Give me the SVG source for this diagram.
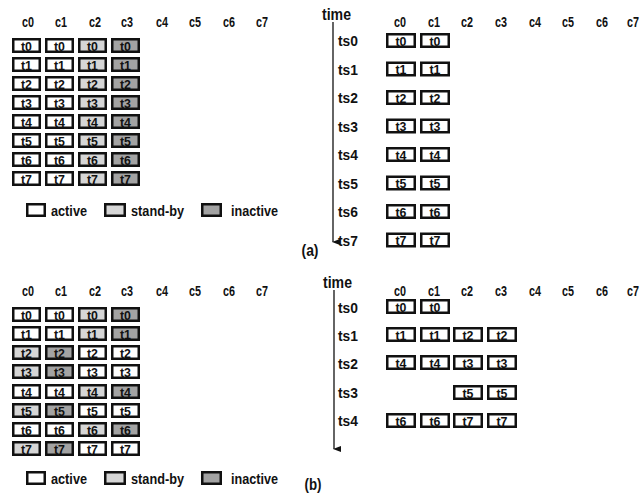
<svg xmlns="http://www.w3.org/2000/svg" width="642" height="495" viewBox="0 0 642 495">
<style>
text{font-family:"Liberation Sans",Arial,sans-serif;font-weight:bold;fill:#111}
.hd{font-size:14px;text-anchor:middle}
.bt{font-size:13.5px;text-anchor:middle}
.lg{font-size:15.5px}
.ts{font-size:15.5px}
.tm{font-size:16.5px}
.cap{font-size:16px;text-anchor:middle}
rect.b{stroke:#111;stroke-width:2.5}
.a{fill:#fff}.s{fill:#d6d6d6}.i{fill:#a3a3a3}
.ax{stroke:#111;stroke-width:1.3;fill:none}
</style>
<defs>
<marker id="ah" markerWidth="6" markerHeight="8" refX="3" refY="7" orient="auto" markerUnits="userSpaceOnUse" viewBox="0 0 6 8"><path d="M0,0 L6,0 L3,8 Z" fill="#111"/></marker>
</defs>
<rect width="642" height="495" fill="#fff"/>

<!-- Panel (a) left -->
<g id="a-headers">
<text class="hd" x="28" y="27" textLength="12" lengthAdjust="spacingAndGlyphs">c0</text><text class="hd" x="61" y="27" textLength="12" lengthAdjust="spacingAndGlyphs">c1</text><text class="hd" x="95" y="27" textLength="12" lengthAdjust="spacingAndGlyphs">c2</text><text class="hd" x="127" y="27" textLength="12" lengthAdjust="spacingAndGlyphs">c3</text><text class="hd" x="162" y="27" textLength="12" lengthAdjust="spacingAndGlyphs">c4</text><text class="hd" x="195" y="27" textLength="12" lengthAdjust="spacingAndGlyphs">c5</text><text class="hd" x="229" y="27" textLength="12" lengthAdjust="spacingAndGlyphs">c6</text><text class="hd" x="262" y="27" textLength="12" lengthAdjust="spacingAndGlyphs">c7</text>
</g>
<g id="a-grid">
<g id="a-r0"><rect class="b a" x="13.25" y="39.25" width="26.5" height="12.5"/><text class="bt" x="26.5" y="50.5" textLength="11" lengthAdjust="spacingAndGlyphs">t0</text><rect class="b a" x="46.25" y="39.25" width="26.5" height="12.5"/><text class="bt" x="59.5" y="50.5" textLength="11" lengthAdjust="spacingAndGlyphs">t0</text><rect class="b s" x="79.25" y="39.25" width="26.5" height="12.5"/><text class="bt" x="92.5" y="50.5" textLength="11" lengthAdjust="spacingAndGlyphs">t0</text><rect class="b i" x="112.25" y="39.25" width="26.5" height="12.5"/><text class="bt" x="125.5" y="50.5" textLength="11" lengthAdjust="spacingAndGlyphs">t0</text></g>
<g id="a-r1"><rect class="b a" x="13.25" y="58.25" width="26.5" height="12.5"/><text class="bt" x="26.5" y="69.5" textLength="11" lengthAdjust="spacingAndGlyphs">t1</text><rect class="b a" x="46.25" y="58.25" width="26.5" height="12.5"/><text class="bt" x="59.5" y="69.5" textLength="11" lengthAdjust="spacingAndGlyphs">t1</text><rect class="b s" x="79.25" y="58.25" width="26.5" height="12.5"/><text class="bt" x="92.5" y="69.5" textLength="11" lengthAdjust="spacingAndGlyphs">t1</text><rect class="b i" x="112.25" y="58.25" width="26.5" height="12.5"/><text class="bt" x="125.5" y="69.5" textLength="11" lengthAdjust="spacingAndGlyphs">t1</text></g>
<g id="a-r2"><rect class="b a" x="13.25" y="77.25" width="26.5" height="12.5"/><text class="bt" x="26.5" y="88.5" textLength="11" lengthAdjust="spacingAndGlyphs">t2</text><rect class="b a" x="46.25" y="77.25" width="26.5" height="12.5"/><text class="bt" x="59.5" y="88.5" textLength="11" lengthAdjust="spacingAndGlyphs">t2</text><rect class="b s" x="79.25" y="77.25" width="26.5" height="12.5"/><text class="bt" x="92.5" y="88.5" textLength="11" lengthAdjust="spacingAndGlyphs">t2</text><rect class="b i" x="112.25" y="77.25" width="26.5" height="12.5"/><text class="bt" x="125.5" y="88.5" textLength="11" lengthAdjust="spacingAndGlyphs">t2</text></g>
<g id="a-r3"><rect class="b a" x="13.25" y="96.25" width="26.5" height="12.5"/><text class="bt" x="26.5" y="107.5" textLength="11" lengthAdjust="spacingAndGlyphs">t3</text><rect class="b a" x="46.25" y="96.25" width="26.5" height="12.5"/><text class="bt" x="59.5" y="107.5" textLength="11" lengthAdjust="spacingAndGlyphs">t3</text><rect class="b s" x="79.25" y="96.25" width="26.5" height="12.5"/><text class="bt" x="92.5" y="107.5" textLength="11" lengthAdjust="spacingAndGlyphs">t3</text><rect class="b i" x="112.25" y="96.25" width="26.5" height="12.5"/><text class="bt" x="125.5" y="107.5" textLength="11" lengthAdjust="spacingAndGlyphs">t3</text></g>
<g id="a-r4"><rect class="b a" x="13.25" y="115.25" width="26.5" height="12.5"/><text class="bt" x="26.5" y="126.5" textLength="11" lengthAdjust="spacingAndGlyphs">t4</text><rect class="b a" x="46.25" y="115.25" width="26.5" height="12.5"/><text class="bt" x="59.5" y="126.5" textLength="11" lengthAdjust="spacingAndGlyphs">t4</text><rect class="b s" x="79.25" y="115.25" width="26.5" height="12.5"/><text class="bt" x="92.5" y="126.5" textLength="11" lengthAdjust="spacingAndGlyphs">t4</text><rect class="b i" x="112.25" y="115.25" width="26.5" height="12.5"/><text class="bt" x="125.5" y="126.5" textLength="11" lengthAdjust="spacingAndGlyphs">t4</text></g>
<g id="a-r5"><rect class="b a" x="13.25" y="134.25" width="26.5" height="12.5"/><text class="bt" x="26.5" y="145.5" textLength="11" lengthAdjust="spacingAndGlyphs">t5</text><rect class="b a" x="46.25" y="134.25" width="26.5" height="12.5"/><text class="bt" x="59.5" y="145.5" textLength="11" lengthAdjust="spacingAndGlyphs">t5</text><rect class="b s" x="79.25" y="134.25" width="26.5" height="12.5"/><text class="bt" x="92.5" y="145.5" textLength="11" lengthAdjust="spacingAndGlyphs">t5</text><rect class="b i" x="112.25" y="134.25" width="26.5" height="12.5"/><text class="bt" x="125.5" y="145.5" textLength="11" lengthAdjust="spacingAndGlyphs">t5</text></g>
<g id="a-r6"><rect class="b a" x="13.25" y="153.25" width="26.5" height="12.5"/><text class="bt" x="26.5" y="164.5" textLength="11" lengthAdjust="spacingAndGlyphs">t6</text><rect class="b a" x="46.25" y="153.25" width="26.5" height="12.5"/><text class="bt" x="59.5" y="164.5" textLength="11" lengthAdjust="spacingAndGlyphs">t6</text><rect class="b s" x="79.25" y="153.25" width="26.5" height="12.5"/><text class="bt" x="92.5" y="164.5" textLength="11" lengthAdjust="spacingAndGlyphs">t6</text><rect class="b i" x="112.25" y="153.25" width="26.5" height="12.5"/><text class="bt" x="125.5" y="164.5" textLength="11" lengthAdjust="spacingAndGlyphs">t6</text></g>
<g id="a-r7"><rect class="b a" x="13.25" y="172.25" width="26.5" height="12.5"/><text class="bt" x="26.5" y="183.5" textLength="11" lengthAdjust="spacingAndGlyphs">t7</text><rect class="b a" x="46.25" y="172.25" width="26.5" height="12.5"/><text class="bt" x="59.5" y="183.5" textLength="11" lengthAdjust="spacingAndGlyphs">t7</text><rect class="b s" x="79.25" y="172.25" width="26.5" height="12.5"/><text class="bt" x="92.5" y="183.5" textLength="11" lengthAdjust="spacingAndGlyphs">t7</text><rect class="b i" x="112.25" y="172.25" width="26.5" height="12.5"/><text class="bt" x="125.5" y="183.5" textLength="11" lengthAdjust="spacingAndGlyphs">t7</text></g>
</g>
<g id="a-legend">
<rect class="b a" x="27.25" y="204.25" width="17.5" height="11.5"/><text class="lg" x="51" y="216" textLength="36" lengthAdjust="spacingAndGlyphs">active</text>
<rect class="b s" x="105.25" y="204.25" width="19.5" height="11.5"/><text class="lg" x="131" y="216" textLength="53" lengthAdjust="spacingAndGlyphs">stand-by</text>
<rect class="b i" x="202.25" y="204.25" width="18.5" height="11.5"/><text class="lg" x="231" y="216" textLength="47" lengthAdjust="spacingAndGlyphs">inactive</text>
</g>

<!-- Panel (a) right -->
<g id="a-time">
<text class="tm" x="322" y="20" textLength="29" lengthAdjust="spacingAndGlyphs">time</text>
<text class="hd" x="400" y="27" textLength="12" lengthAdjust="spacingAndGlyphs">c0</text><text class="hd" x="434" y="27" textLength="12" lengthAdjust="spacingAndGlyphs">c1</text><text class="hd" x="467" y="27" textLength="12" lengthAdjust="spacingAndGlyphs">c2</text><text class="hd" x="501" y="27" textLength="12" lengthAdjust="spacingAndGlyphs">c3</text><text class="hd" x="535" y="27" textLength="12" lengthAdjust="spacingAndGlyphs">c4</text><text class="hd" x="568" y="27" textLength="12" lengthAdjust="spacingAndGlyphs">c5</text><text class="hd" x="602" y="27" textLength="12" lengthAdjust="spacingAndGlyphs">c6</text><text class="hd" x="633" y="27" textLength="12" lengthAdjust="spacingAndGlyphs">c7</text>
</g>
<g id="connectors">
<line class="ax" x1="333" y1="22" x2="333" y2="242" marker-end="url(#ah)"/>
<line class="ax" x1="334" y1="290" x2="334" y2="449" marker-end="url(#ah)"/>
</g>
<g id="a-sched">
<g id="a-ts0"><text class="ts" x="338" y="46" textLength="20" lengthAdjust="spacingAndGlyphs">ts0</text><rect class="b a" x="387.25" y="34.25" width="27.5" height="12.5"/><text class="bt" x="401" y="45.5" textLength="11" lengthAdjust="spacingAndGlyphs">t0</text><rect class="b a" x="421.25" y="34.25" width="27.5" height="12.5"/><text class="bt" x="435" y="45.5" textLength="11" lengthAdjust="spacingAndGlyphs">t0</text></g>
<g id="a-ts1"><text class="ts" x="338" y="74.5" textLength="20" lengthAdjust="spacingAndGlyphs">ts1</text><rect class="b a" x="387.25" y="62.75" width="27.5" height="12.5"/><text class="bt" x="401" y="74" textLength="11" lengthAdjust="spacingAndGlyphs">t1</text><rect class="b a" x="421.25" y="62.75" width="27.5" height="12.5"/><text class="bt" x="435" y="74" textLength="11" lengthAdjust="spacingAndGlyphs">t1</text></g>
<g id="a-ts2"><text class="ts" x="338" y="103" textLength="20" lengthAdjust="spacingAndGlyphs">ts2</text><rect class="b a" x="387.25" y="91.25" width="27.5" height="12.5"/><text class="bt" x="401" y="102.5" textLength="11" lengthAdjust="spacingAndGlyphs">t2</text><rect class="b a" x="421.25" y="91.25" width="27.5" height="12.5"/><text class="bt" x="435" y="102.5" textLength="11" lengthAdjust="spacingAndGlyphs">t2</text></g>
<g id="a-ts3"><text class="ts" x="338" y="131.5" textLength="20" lengthAdjust="spacingAndGlyphs">ts3</text><rect class="b a" x="387.25" y="119.75" width="27.5" height="12.5"/><text class="bt" x="401" y="131" textLength="11" lengthAdjust="spacingAndGlyphs">t3</text><rect class="b a" x="421.25" y="119.75" width="27.5" height="12.5"/><text class="bt" x="435" y="131" textLength="11" lengthAdjust="spacingAndGlyphs">t3</text></g>
<g id="a-ts4"><text class="ts" x="338" y="160" textLength="20" lengthAdjust="spacingAndGlyphs">ts4</text><rect class="b a" x="387.25" y="148.25" width="27.5" height="12.5"/><text class="bt" x="401" y="159.5" textLength="11" lengthAdjust="spacingAndGlyphs">t4</text><rect class="b a" x="421.25" y="148.25" width="27.5" height="12.5"/><text class="bt" x="435" y="159.5" textLength="11" lengthAdjust="spacingAndGlyphs">t4</text></g>
<g id="a-ts5"><text class="ts" x="338" y="188.5" textLength="20" lengthAdjust="spacingAndGlyphs">ts5</text><rect class="b a" x="387.25" y="176.75" width="27.5" height="12.5"/><text class="bt" x="401" y="188" textLength="11" lengthAdjust="spacingAndGlyphs">t5</text><rect class="b a" x="421.25" y="176.75" width="27.5" height="12.5"/><text class="bt" x="435" y="188" textLength="11" lengthAdjust="spacingAndGlyphs">t5</text></g>
<g id="a-ts6"><text class="ts" x="338" y="217" textLength="20" lengthAdjust="spacingAndGlyphs">ts6</text><rect class="b a" x="387.25" y="205.25" width="27.5" height="12.5"/><text class="bt" x="401" y="216.5" textLength="11" lengthAdjust="spacingAndGlyphs">t6</text><rect class="b a" x="421.25" y="205.25" width="27.5" height="12.5"/><text class="bt" x="435" y="216.5" textLength="11" lengthAdjust="spacingAndGlyphs">t6</text></g>
<g id="a-ts7"><text class="ts" x="338" y="245.5" textLength="20" lengthAdjust="spacingAndGlyphs">ts7</text><rect class="b a" x="387.25" y="233.75" width="27.5" height="12.5"/><text class="bt" x="401" y="245" textLength="11" lengthAdjust="spacingAndGlyphs">t7</text><rect class="b a" x="421.25" y="233.75" width="27.5" height="12.5"/><text class="bt" x="435" y="245" textLength="11" lengthAdjust="spacingAndGlyphs">t7</text></g>
</g>
<text id="cap-a" class="cap" x="310" y="256" textLength="17" lengthAdjust="spacingAndGlyphs">(a)</text>

<!-- Panel (b) left -->
<g id="b-headers">
<text class="hd" x="28" y="296" textLength="12" lengthAdjust="spacingAndGlyphs">c0</text><text class="hd" x="61" y="296" textLength="12" lengthAdjust="spacingAndGlyphs">c1</text><text class="hd" x="95" y="296" textLength="12" lengthAdjust="spacingAndGlyphs">c2</text><text class="hd" x="127" y="296" textLength="12" lengthAdjust="spacingAndGlyphs">c3</text><text class="hd" x="162" y="296" textLength="12" lengthAdjust="spacingAndGlyphs">c4</text><text class="hd" x="195" y="296" textLength="12" lengthAdjust="spacingAndGlyphs">c5</text><text class="hd" x="229" y="296" textLength="12" lengthAdjust="spacingAndGlyphs">c6</text><text class="hd" x="262" y="296" textLength="12" lengthAdjust="spacingAndGlyphs">c7</text>
</g>
<g id="b-grid">
<g id="b-r0"><rect class="b a" x="13.25" y="308.25" width="26.5" height="12.5"/><text class="bt" x="26.5" y="319.5" textLength="11" lengthAdjust="spacingAndGlyphs">t0</text><rect class="b a" x="46.25" y="308.25" width="26.5" height="12.5"/><text class="bt" x="59.5" y="319.5" textLength="11" lengthAdjust="spacingAndGlyphs">t0</text><rect class="b s" x="79.25" y="308.25" width="26.5" height="12.5"/><text class="bt" x="92.5" y="319.5" textLength="11" lengthAdjust="spacingAndGlyphs">t0</text><rect class="b i" x="112.25" y="308.25" width="26.5" height="12.5"/><text class="bt" x="125.5" y="319.5" textLength="11" lengthAdjust="spacingAndGlyphs">t0</text></g>
<g id="b-r1"><rect class="b a" x="13.25" y="327.25" width="26.5" height="12.5"/><text class="bt" x="26.5" y="338.5" textLength="11" lengthAdjust="spacingAndGlyphs">t1</text><rect class="b a" x="46.25" y="327.25" width="26.5" height="12.5"/><text class="bt" x="59.5" y="338.5" textLength="11" lengthAdjust="spacingAndGlyphs">t1</text><rect class="b s" x="79.25" y="327.25" width="26.5" height="12.5"/><text class="bt" x="92.5" y="338.5" textLength="11" lengthAdjust="spacingAndGlyphs">t1</text><rect class="b i" x="112.25" y="327.25" width="26.5" height="12.5"/><text class="bt" x="125.5" y="338.5" textLength="11" lengthAdjust="spacingAndGlyphs">t1</text></g>
<g id="b-r2"><rect class="b s" x="13.25" y="346.25" width="26.5" height="12.5"/><text class="bt" x="26.5" y="357.5" textLength="11" lengthAdjust="spacingAndGlyphs">t2</text><rect class="b i" x="46.25" y="346.25" width="26.5" height="12.5"/><text class="bt" x="59.5" y="357.5" textLength="11" lengthAdjust="spacingAndGlyphs">t2</text><rect class="b a" x="79.25" y="346.25" width="26.5" height="12.5"/><text class="bt" x="92.5" y="357.5" textLength="11" lengthAdjust="spacingAndGlyphs">t2</text><rect class="b a" x="112.25" y="346.25" width="26.5" height="12.5"/><text class="bt" x="125.5" y="357.5" textLength="11" lengthAdjust="spacingAndGlyphs">t2</text></g>
<g id="b-r3"><rect class="b s" x="13.25" y="365.25" width="26.5" height="12.5"/><text class="bt" x="26.5" y="376.5" textLength="11" lengthAdjust="spacingAndGlyphs">t3</text><rect class="b i" x="46.25" y="365.25" width="26.5" height="12.5"/><text class="bt" x="59.5" y="376.5" textLength="11" lengthAdjust="spacingAndGlyphs">t3</text><rect class="b a" x="79.25" y="365.25" width="26.5" height="12.5"/><text class="bt" x="92.5" y="376.5" textLength="11" lengthAdjust="spacingAndGlyphs">t3</text><rect class="b a" x="112.25" y="365.25" width="26.5" height="12.5"/><text class="bt" x="125.5" y="376.5" textLength="11" lengthAdjust="spacingAndGlyphs">t3</text></g>
<g id="b-r4"><rect class="b a" x="13.25" y="385.25" width="26.5" height="12.5"/><text class="bt" x="26.5" y="396.5" textLength="11" lengthAdjust="spacingAndGlyphs">t4</text><rect class="b a" x="46.25" y="385.25" width="26.5" height="12.5"/><text class="bt" x="59.5" y="396.5" textLength="11" lengthAdjust="spacingAndGlyphs">t4</text><rect class="b s" x="79.25" y="385.25" width="26.5" height="12.5"/><text class="bt" x="92.5" y="396.5" textLength="11" lengthAdjust="spacingAndGlyphs">t4</text><rect class="b i" x="112.25" y="385.25" width="26.5" height="12.5"/><text class="bt" x="125.5" y="396.5" textLength="11" lengthAdjust="spacingAndGlyphs">t4</text></g>
<g id="b-r5"><rect class="b s" x="13.25" y="404.25" width="26.5" height="12.5"/><text class="bt" x="26.5" y="415.5" textLength="11" lengthAdjust="spacingAndGlyphs">t5</text><rect class="b i" x="46.25" y="404.25" width="26.5" height="12.5"/><text class="bt" x="59.5" y="415.5" textLength="11" lengthAdjust="spacingAndGlyphs">t5</text><rect class="b a" x="79.25" y="404.25" width="26.5" height="12.5"/><text class="bt" x="92.5" y="415.5" textLength="11" lengthAdjust="spacingAndGlyphs">t5</text><rect class="b a" x="112.25" y="404.25" width="26.5" height="12.5"/><text class="bt" x="125.5" y="415.5" textLength="11" lengthAdjust="spacingAndGlyphs">t5</text></g>
<g id="b-r6"><rect class="b a" x="13.25" y="423.25" width="26.5" height="12.5"/><text class="bt" x="26.5" y="434.5" textLength="11" lengthAdjust="spacingAndGlyphs">t6</text><rect class="b a" x="46.25" y="423.25" width="26.5" height="12.5"/><text class="bt" x="59.5" y="434.5" textLength="11" lengthAdjust="spacingAndGlyphs">t6</text><rect class="b s" x="79.25" y="423.25" width="26.5" height="12.5"/><text class="bt" x="92.5" y="434.5" textLength="11" lengthAdjust="spacingAndGlyphs">t6</text><rect class="b i" x="112.25" y="423.25" width="26.5" height="12.5"/><text class="bt" x="125.5" y="434.5" textLength="11" lengthAdjust="spacingAndGlyphs">t6</text></g>
<g id="b-r7"><rect class="b s" x="13.25" y="442.25" width="26.5" height="12.5"/><text class="bt" x="26.5" y="453.5" textLength="11" lengthAdjust="spacingAndGlyphs">t7</text><rect class="b i" x="46.25" y="442.25" width="26.5" height="12.5"/><text class="bt" x="59.5" y="453.5" textLength="11" lengthAdjust="spacingAndGlyphs">t7</text><rect class="b a" x="79.25" y="442.25" width="26.5" height="12.5"/><text class="bt" x="92.5" y="453.5" textLength="11" lengthAdjust="spacingAndGlyphs">t7</text><rect class="b a" x="112.25" y="442.25" width="26.5" height="12.5"/><text class="bt" x="125.5" y="453.5" textLength="11" lengthAdjust="spacingAndGlyphs">t7</text></g>
</g>
<g id="b-legend">
<rect class="b a" x="27.25" y="472.25" width="17.5" height="11.5"/><text class="lg" x="51" y="484" textLength="36" lengthAdjust="spacingAndGlyphs">active</text>
<rect class="b s" x="105.25" y="472.25" width="19.5" height="11.5"/><text class="lg" x="131" y="484" textLength="53" lengthAdjust="spacingAndGlyphs">stand-by</text>
<rect class="b i" x="202.25" y="472.25" width="18.5" height="11.5"/><text class="lg" x="231" y="484" textLength="47" lengthAdjust="spacingAndGlyphs">inactive</text>
</g>

<!-- Panel (b) right -->
<g id="b-time">
<text class="tm" x="323" y="288" textLength="29" lengthAdjust="spacingAndGlyphs">time</text>
<text class="hd" x="400" y="296" textLength="12" lengthAdjust="spacingAndGlyphs">c0</text><text class="hd" x="434" y="296" textLength="12" lengthAdjust="spacingAndGlyphs">c1</text><text class="hd" x="467" y="296" textLength="12" lengthAdjust="spacingAndGlyphs">c2</text><text class="hd" x="501" y="296" textLength="12" lengthAdjust="spacingAndGlyphs">c3</text><text class="hd" x="535" y="296" textLength="12" lengthAdjust="spacingAndGlyphs">c4</text><text class="hd" x="568" y="296" textLength="12" lengthAdjust="spacingAndGlyphs">c5</text><text class="hd" x="602" y="296" textLength="12" lengthAdjust="spacingAndGlyphs">c6</text><text class="hd" x="633" y="296" textLength="12" lengthAdjust="spacingAndGlyphs">c7</text>
</g>
<g id="b-sched">
<g id="b-ts0"><text class="ts" x="338" y="313" textLength="20" lengthAdjust="spacingAndGlyphs">ts0</text><rect class="b a" x="387.25" y="300.25" width="27.5" height="12.5"/><text class="bt" x="401" y="311.5" textLength="11" lengthAdjust="spacingAndGlyphs">t0</text><rect class="b a" x="421.25" y="300.25" width="27.5" height="12.5"/><text class="bt" x="435" y="311.5" textLength="11" lengthAdjust="spacingAndGlyphs">t0</text></g>
<g id="b-ts1"><text class="ts" x="338" y="341" textLength="20" lengthAdjust="spacingAndGlyphs">ts1</text><rect class="b a" x="387.25" y="328.25" width="27.5" height="12.5"/><text class="bt" x="401" y="339.5" textLength="11" lengthAdjust="spacingAndGlyphs">t1</text><rect class="b a" x="421.25" y="328.25" width="27.5" height="12.5"/><text class="bt" x="435" y="339.5" textLength="11" lengthAdjust="spacingAndGlyphs">t1</text><rect class="b a" x="454.25" y="328.25" width="27.5" height="12.5"/><text class="bt" x="468" y="339.5" textLength="11" lengthAdjust="spacingAndGlyphs">t2</text><rect class="b a" x="488.25" y="328.25" width="27.5" height="12.5"/><text class="bt" x="502" y="339.5" textLength="11" lengthAdjust="spacingAndGlyphs">t2</text></g>
<g id="b-ts2"><text class="ts" x="338" y="369" textLength="20" lengthAdjust="spacingAndGlyphs">ts2</text><rect class="b a" x="387.25" y="356.25" width="27.5" height="12.5"/><text class="bt" x="401" y="367.5" textLength="11" lengthAdjust="spacingAndGlyphs">t4</text><rect class="b a" x="421.25" y="356.25" width="27.5" height="12.5"/><text class="bt" x="435" y="367.5" textLength="11" lengthAdjust="spacingAndGlyphs">t4</text><rect class="b a" x="454.25" y="356.25" width="27.5" height="12.5"/><text class="bt" x="468" y="367.5" textLength="11" lengthAdjust="spacingAndGlyphs">t3</text><rect class="b a" x="488.25" y="356.25" width="27.5" height="12.5"/><text class="bt" x="502" y="367.5" textLength="11" lengthAdjust="spacingAndGlyphs">t3</text></g>
<g id="b-ts3"><text class="ts" x="338" y="398" textLength="20" lengthAdjust="spacingAndGlyphs">ts3</text><rect class="b a" x="454.25" y="386.25" width="27.5" height="12.5"/><text class="bt" x="468" y="397.5" textLength="11" lengthAdjust="spacingAndGlyphs">t5</text><rect class="b a" x="488.25" y="386.25" width="27.5" height="12.5"/><text class="bt" x="502" y="397.5" textLength="11" lengthAdjust="spacingAndGlyphs">t5</text></g>
<g id="b-ts4"><text class="ts" x="338" y="426" textLength="20" lengthAdjust="spacingAndGlyphs">ts4</text><rect class="b a" x="387.25" y="414.25" width="27.5" height="12.5"/><text class="bt" x="401" y="425.5" textLength="11" lengthAdjust="spacingAndGlyphs">t6</text><rect class="b a" x="421.25" y="414.25" width="27.5" height="12.5"/><text class="bt" x="435" y="425.5" textLength="11" lengthAdjust="spacingAndGlyphs">t6</text><rect class="b a" x="454.25" y="414.25" width="27.5" height="12.5"/><text class="bt" x="468" y="425.5" textLength="11" lengthAdjust="spacingAndGlyphs">t7</text><rect class="b a" x="488.25" y="414.25" width="27.5" height="12.5"/><text class="bt" x="502" y="425.5" textLength="11" lengthAdjust="spacingAndGlyphs">t7</text></g>
</g>
<text id="cap-b" class="cap" x="313" y="490" textLength="17" lengthAdjust="spacingAndGlyphs">(b)</text>
</svg>
